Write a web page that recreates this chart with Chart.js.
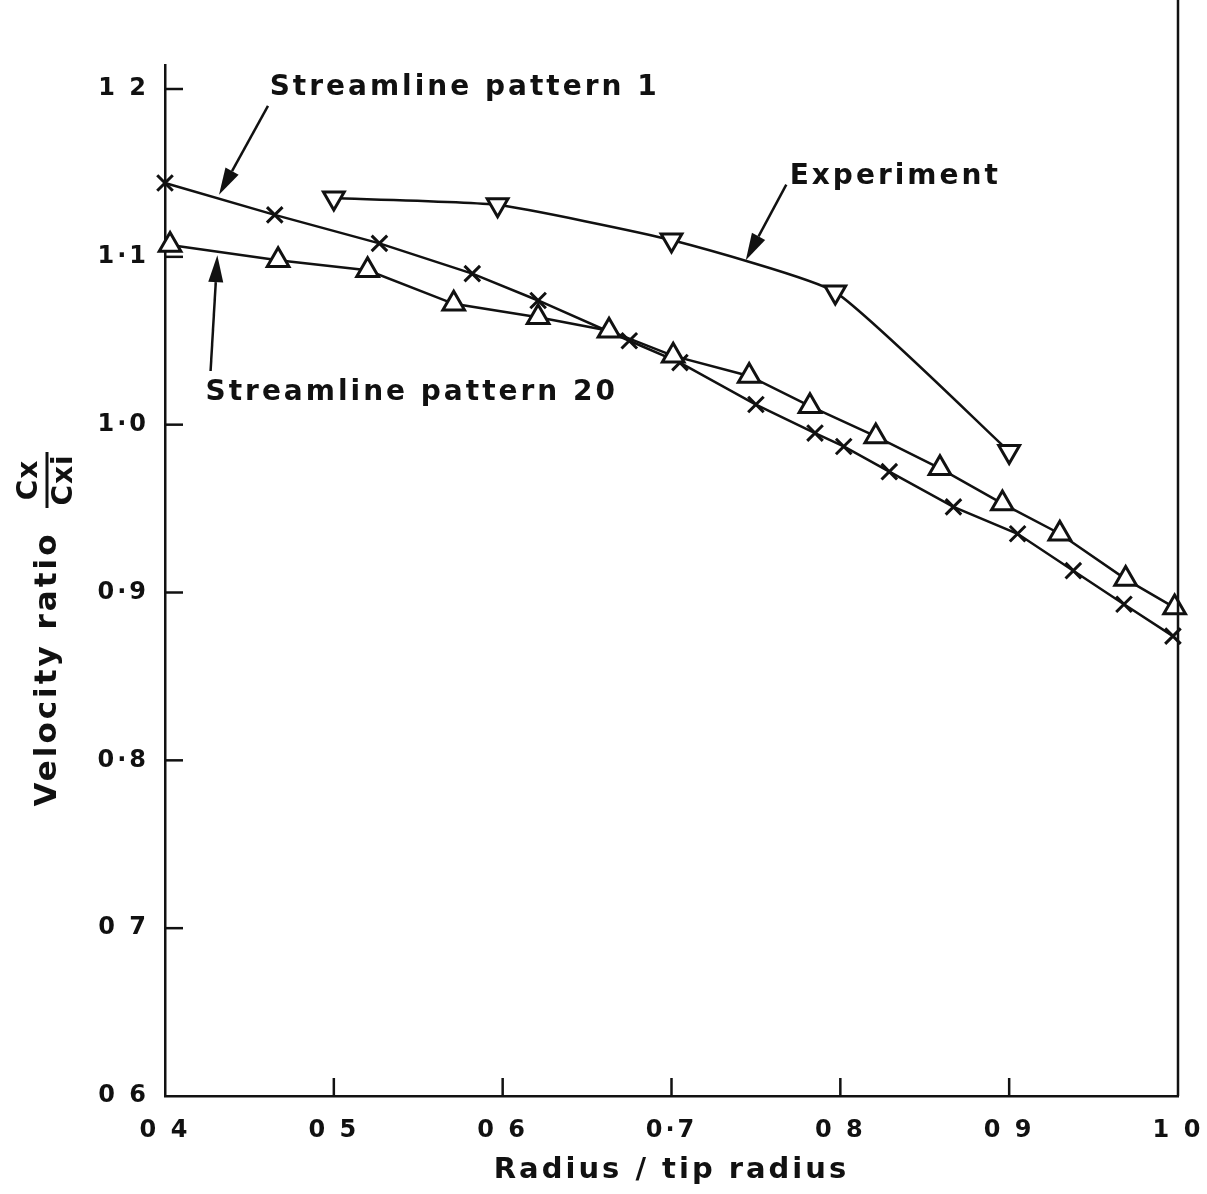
<!DOCTYPE html>
<html>
<head>
<meta charset="utf-8">
<script src="https://cdn.jsdelivr.net/npm/chart.js@4.4.1/dist/chart.umd.min.js"></script>
<style>
  html, body { margin: 0; padding: 0; background: #fff; }
  #wrap { width: 1207px; height: 1194px; }
</style>
</head>
<body>
<div id="wrap"><canvas id="grafico"></canvas></div>
<script>
// eixos
const xTicks = [0.4, 0.5, 0.6, 0.7, 0.8, 0.9, 1.0];
const xTickLabels = ["0 4", "0 5", "0 6", "0·7", "0 8", "0 9", "1 0"];
const yTicks = [0.6, 0.7, 0.8, 0.9, 1.0, 1.1, 1.2];
const yTickLabels = ["0 6", "0 7", "0·8", "0·9", "1·0", "1·1", "1 2"];

// Streamline pattern 1 (x)
const pattern1X = [0.400, 0.465, 0.527, 0.582, 0.621, 0.675, 0.705, 0.750, 0.785, 0.802, 0.829, 0.867, 0.905, 0.938, 0.968, 0.997];
const pattern1Y = [1.144, 1.125, 1.108, 1.090, 1.074, 1.050, 1.037, 1.012, 0.995, 0.987, 0.972, 0.951, 0.935, 0.913, 0.893, 0.874];

// Streamline pattern 20 (triangulo)
const pattern20X = [0.403, 0.467, 0.520, 0.571, 0.621, 0.663, 0.701, 0.746, 0.782, 0.821, 0.859, 0.896, 0.930, 0.969, 0.998];
const pattern20Y = [1.107, 1.098, 1.092, 1.072, 1.064, 1.056, 1.041, 1.029, 1.011, 0.993, 0.974, 0.953, 0.935, 0.908, 0.891];

// Experiment (triangulo invertido)
const experimentX = [0.500, 0.597, 0.700, 0.797, 0.900];
const experimentY = [1.135, 1.131, 1.110, 1.079, 0.984];

// legendas com seta (em unidades dos eixos)
const annotationTexts = ["Streamline pattern 1", "Experiment", "Streamline pattern 20"];
const annotationAnchors = [[0.462, 1.201], [0.770, 1.148], [0.424, 1.019]];
const arrowTails = [[0.461, 1.190], [0.768, 1.143], [0.427, 1.032]];
const arrowTips = [[0.432, 1.137], [0.744, 1.098], [0.431, 1.101]];

const INK = "#111";
const FONT = "'DejaVu Sans', sans-serif";

function pontos(xs, ys) {
  return xs.map((x, i) => ({ x: x, y: ys[i] }));
}

function seta(ctx, x1, y1, x2, y2) {
  const ang = Math.atan2(y2 - y1, x2 - x1);
  const len = 27;
  const half = 7.5;
  const bx = x2 - Math.cos(ang) * len;
  const by = y2 - Math.sin(ang) * len;
  ctx.beginPath();
  ctx.moveTo(x1, y1);
  ctx.lineTo(bx, by);
  ctx.stroke();
  ctx.beginPath();
  ctx.moveTo(x2, y2);
  ctx.lineTo(bx + Math.sin(ang) * half, by - Math.cos(ang) * half);
  ctx.lineTo(bx - Math.sin(ang) * half, by + Math.cos(ang) * half);
  ctx.closePath();
  ctx.fill();
}

const moldura = {
  id: "moldura",
  beforeDraw(chart) {
    chart.ctx.letterSpacing = "3px";
  },
  afterDraw(chart) {
    const { ctx, chartArea } = chart;
    const sx = chart.scales.x;
    const sy = chart.scales.y;
    ctx.save();
    ctx.strokeStyle = INK;
    ctx.fillStyle = INK;
    ctx.lineWidth = 2.5;

    // linha vertical da direita
    ctx.beginPath();
    ctx.moveTo(chartArea.right, 0);
    ctx.lineTo(chartArea.right, chartArea.bottom);
    ctx.stroke();

    // marcas internas
    xTicks.slice(1, -1).forEach((v) => {
      const px = sx.getPixelForValue(v);
      ctx.beginPath();
      ctx.moveTo(px, chartArea.bottom);
      ctx.lineTo(px, chartArea.bottom - 18);
      ctx.stroke();
    });
    yTicks.slice(1).forEach((v) => {
      const py = sy.getPixelForValue(v);
      ctx.beginPath();
      ctx.moveTo(chartArea.left, py);
      ctx.lineTo(chartArea.left + 18, py);
      ctx.stroke();
    });

    // titulo do eixo y
    ctx.letterSpacing = "3px";
    ctx.textAlign = "center";
    ctx.textBaseline = "middle";
    ctx.font = "bold 31px " + FONT;
    ctx.save();
    ctx.translate(48, 669);
    ctx.rotate(-Math.PI / 2);
    ctx.fillText("Velocity ratio", 0, 0);
    ctx.restore();

    ctx.save();
    ctx.translate(47, 480);
    ctx.rotate(-Math.PI / 2);
    ctx.font = "bold 28px " + FONT;
    ctx.letterSpacing = "1px";
    ctx.fillText("Cx", 0, -17);
    ctx.fillText("Cxi", 0, 18);
    ctx.lineWidth = 3;
    ctx.beginPath();
    ctx.moveTo(-28, 0);
    ctx.lineTo(28, 0);
    ctx.stroke();
    ctx.restore();

    // legendas com seta
    ctx.font = "bold 28px " + FONT;
    ctx.letterSpacing = "3px";
    ctx.textAlign = "left";
    annotationTexts.forEach((txt, i) => {
      const ax = sx.getPixelForValue(annotationAnchors[i][0]);
      const ay = sy.getPixelForValue(annotationAnchors[i][1]);
      ctx.fillText(txt, ax, ay);
      seta(
        ctx,
        sx.getPixelForValue(arrowTails[i][0]),
        sy.getPixelForValue(arrowTails[i][1]),
        sx.getPixelForValue(arrowTips[i][0]),
        sy.getPixelForValue(arrowTips[i][1]),
      );
    });
    ctx.restore();
  },
};

Chart.defaults.font.family = FONT;
Chart.defaults.color = INK;

new Chart(document.getElementById("grafico"), {
  type: "scatter",
  data: {
    datasets: [
      {
        label: "Experiment",
        data: pontos(experimentX, experimentY),
        showLine: true,
        tension: 0.15,
        borderColor: INK,
        borderWidth: 2.5,
        pointStyle: "triangle",
        rotation: 180,
        pointRadius: 12,
        pointBackgroundColor: "#fff",
        pointBorderColor: INK,
        pointBorderWidth: 3,
        clip: false,
      },
      {
        label: "Streamline pattern 20",
        data: pontos(pattern20X, pattern20Y),
        showLine: true,
        borderColor: INK,
        borderWidth: 2.5,
        pointStyle: "triangle",
        pointRadius: 12.5,
        pointBackgroundColor: "#fff",
        pointBorderColor: INK,
        pointBorderWidth: 3,
        clip: false,
      },
      {
        label: "Streamline pattern 1",
        data: pontos(pattern1X, pattern1Y),
        showLine: true,
        borderColor: INK,
        borderWidth: 2.5,
        pointStyle: "crossRot",
        pointRadius: 11,
        pointBorderColor: INK,
        pointBorderWidth: 3,
        clip: false,
      },
    ],
  },
  options: {
    responsive: true,
    maintainAspectRatio: false,
    animation: false,
    layout: { padding: { top: 65, right: 29, left: 0, bottom: 0 } },
    plugins: {
      legend: { display: false },
      tooltip: { enabled: false },
    },
    scales: {
      x: {
        type: "linear",
        min: 0.4,
        max: 1.0,
        afterBuildTicks: (scale) => {
          scale.ticks = xTicks.map((v) => ({ value: v }));
        },
        afterFit: (scale) => {
          scale.height = 98;
          scale.paddingLeft = 0;
          scale.paddingRight = 0;
        },
        grid: { drawOnChartArea: false, drawTicks: false },
        border: { display: true, color: INK, width: 2.5 },
        ticks: {
          padding: 20,
          maxRotation: 0,
          autoSkip: false,
          font: { size: 24, weight: "bold" },
          color: INK,
          callback: (v, i) => xTickLabels[i],
        },
        title: {
          display: true,
          text: "Radius / tip radius",
          font: { size: 29, weight: "bold" },
          color: INK,
          padding: { top: 0, bottom: 6 },
        },
      },
      y: {
        type: "linear",
        min: 0.6,
        max: 1.2143,
        afterBuildTicks: (scale) => {
          scale.ticks = yTicks.map((v) => ({ value: v }));
        },
        afterFit: (scale) => {
          scale.width = 165;
          scale.paddingTop = 0;
          scale.paddingBottom = 0;
        },
        grid: { drawOnChartArea: false, drawTicks: false },
        border: { display: true, color: INK, width: 2.5 },
        ticks: {
          padding: 16,
          autoSkip: false,
          font: { size: 24, weight: "bold" },
          color: INK,
          callback: (v, i) => yTickLabels[i],
        },
      },
    },
  },
  plugins: [moldura],
});
</script>
</body>
</html>
